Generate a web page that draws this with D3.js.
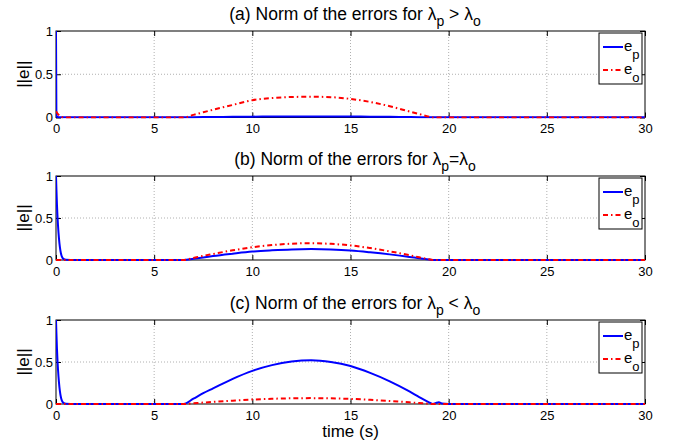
<!DOCTYPE html>
<meta charset="utf-8">
<style>
body { margin: 0; background: #fff; }
svg text { font-family: "Liberation Sans", Arial, Helvetica, sans-serif; fill: #000; }
.tick text { font-size: 13px; }
.grid line { stroke: #b0b0b0; stroke-width: 1; stroke-dasharray: 1,2; }
</style>
<svg id="chart"></svg>
<script src="https://d3js.org/d3.v7.min.js"></script>
<script>

var time = [0, 0.02, 0.05, 0.1, 0.15, 0.2, 0.25, 0.3, 0.4, 0.5, 1, 6.5, 7, 7.5, 8, 9, 10, 11, 12, 13, 14, 15, 16, 17, 18, 18.5, 19, 19.2, 19.35, 19.5, 19.65, 20, 30];

// (a) lambda_p > lambda_o
var epA = [1, 0.05, 0.01, 0.005, 0.004, 0.003, 0.003, 0.002, 0.002, 0.002, 0.002, 0.002, 0.003, 0.005, 0.006, 0.008, 0.01, 0.011, 0.012, 0.012, 0.012, 0.011, 0.01, 0.008, 0.005, 0.004, 0.002, 0.002, 0.002, 0.002, 0.002, 0.002, 0.002];
var eoA = [0.07, 0.065, 0.055, 0.04, 0.028, 0.018, 0.01, 0.005, 0.001, 0, 0, 0, 0.03, 0.06, 0.09, 0.145, 0.2, 0.225, 0.237, 0.24, 0.235, 0.215, 0.18, 0.13, 0.07, 0.04, 0.01, 0, 0, 0, 0, 0, 0];

// (b) lambda_p = lambda_o
var epB = [1, 0.85, 0.65, 0.42, 0.26, 0.15, 0.08, 0.04, 0.01, 0.002, 0, 0, 0.015, 0.03, 0.047, 0.075, 0.1, 0.115, 0.126, 0.13, 0.125, 0.113, 0.092, 0.067, 0.037, 0.02, 0.005, 0, 0, 0, 0, 0, 0];
var eoB = [0, 0, 0, 0, 0, 0, 0, 0, 0, 0, 0, 0, 0.025, 0.05, 0.072, 0.115, 0.152, 0.178, 0.194, 0.2, 0.192, 0.174, 0.142, 0.103, 0.058, 0.032, 0.008, 0, 0, 0, 0, 0, 0];

// (c) lambda_p < lambda_o
var epC = [1, 0.85, 0.65, 0.42, 0.26, 0.15, 0.08, 0.04, 0.01, 0.002, 0, 0, 0.063, 0.13, 0.187, 0.3, 0.395, 0.463, 0.505, 0.52, 0.5, 0.452, 0.37, 0.27, 0.15, 0.083, 0.02, 0, 0.012, 0.02, 0.005, 0, 0];
var eoC = [0, 0, 0, 0, 0, 0, 0, 0, 0, 0, 0, 0, 0.008, 0.017, 0.025, 0.04, 0.053, 0.062, 0.068, 0.07, 0.067, 0.061, 0.05, 0.036, 0.02, 0.011, 0.003, 0, 0, 0, 0, 0, 0];

var xTicks = [0, 5, 10, 15, 20, 25, 30];
var yTicks = [0, 0.5, 1];
var yTickLabels = ["0", "0.5", "1"];

var letters = ["(a)", "(b)", "(c)"];
var relations = [" > ", "=", " < "];

var panels = [
  { ep: epA, eo: eoA, top: 31, bottom: 117.5 },
  { ep: epB, eo: eoB, top: 176, bottom: 260 },
  { ep: epC, eo: eoC, top: 320, bottom: 404 }
];

var width = 675, height = 443,
    left = 56, right = 645;

var svg = d3.select("#chart")
    .attr("width", width)
    .attr("height", height);

var x = d3.scaleLinear().domain([0, 30]).range([left, right]);

panels.forEach(function(p, i) {
  var y = d3.scaleLinear().domain([0, 1]).range([p.bottom, p.top]);
  var g = svg.append("g");

  var clipId = "clip" + i;
  g.append("clipPath").attr("id", clipId)
    .append("rect")
      .attr("x", left).attr("y", p.top - 2)
      .attr("width", right - left).attr("height", p.bottom - p.top + 3);

  // grid
  g.append("g").attr("class", "grid")
    .selectAll("line").data(xTicks.slice(1, -1))
    .enter().append("line")
      .attr("x1", function(d) { return x(d); })
      .attr("x2", function(d) { return x(d); })
      .attr("y1", p.top).attr("y2", p.bottom);
  g.append("g").attr("class", "grid")
    .selectAll("line").data(yTicks.slice(1, -1))
    .enter().append("line")
      .attr("x1", left).attr("x2", right)
      .attr("y1", function(d) { return y(d); })
      .attr("y2", function(d) { return y(d); });

  // axes, ticks inside
  g.append("g")
      .attr("transform", "translate(0," + p.bottom + ")")
      .call(d3.axisBottom(x).tickValues(xTicks).tickSize(-5).tickPadding(6.5));
  g.append("g")
      .attr("transform", "translate(0," + p.top + ")")
      .call(d3.axisTop(x).tickValues(xTicks).tickSize(-5).tickFormat(""));
  g.append("g")
      .attr("transform", "translate(" + left + ",0)")
      .call(d3.axisLeft(y).tickValues(yTicks).tickSize(-5).tickPadding(3)
        .tickFormat(function(d, k) { return yTickLabels[k]; }));
  g.append("g")
      .attr("transform", "translate(" + right + ",0)")
      .call(d3.axisRight(y).tickValues(yTicks).tickSize(-5).tickFormat(""));
  g.selectAll(".domain").remove();
  g.selectAll(".tick line").attr("stroke", "#000");

  g.append("rect")
      .attr("x", left).attr("y", p.top)
      .attr("width", right - left).attr("height", p.bottom - p.top)
      .attr("fill", "none").attr("stroke", "#000").attr("stroke-width", 1);

  var line = d3.line()
      .x(function(d, k) { return x(time[k]); })
      .y(function(d) { return y(d); })
      .curve(d3.curveMonotoneX);

  var plot = g.append("g").attr("clip-path", "url(#" + clipId + ")");
  plot.append("path").datum(p.ep)
      .attr("d", line)
      .attr("fill", "none").attr("stroke", "#0000ff").attr("stroke-width", 2);
  plot.append("path").datum(p.eo)
      .attr("d", line)
      .attr("fill", "none").attr("stroke", "#ff0000").attr("stroke-width", 2)
      .attr("stroke-dasharray", "5,3,1.5,3");

  // title
  var t = g.append("text")
      .attr("x", 355).attr("y", p.top - 11)
      .attr("text-anchor", "middle").style("font-size", "17.5px");
  t.append("tspan").text(letters[i] + " Norm of the errors for \u03bb");
  t.append("tspan").attr("dy", 6).style("font-size", "14px").text("p");
  t.append("tspan").attr("dy", -6).text(relations[i] + "\u03bb");
  t.append("tspan").attr("dy", 6).style("font-size", "14px").text("o");

  // y label
  g.append("text")
      .attr("transform", "translate(29," + (p.top + p.bottom) / 2 + ") rotate(-90)")
      .attr("text-anchor", "middle").style("font-size", "17px")
      .text("||e||");

  // legend
  var lx = 599, ly = p.top + 2;
  var leg = g.append("g");
  leg.append("rect")
      .attr("x", lx).attr("y", ly).attr("width", 43).attr("height", 51)
      .attr("fill", "#fff").attr("stroke", "#000").attr("stroke-width", 1);
  var items = [
    { sub: "p", color: "#0000ff", dash: null, dy: 14 },
    { sub: "o", color: "#ff0000", dash: "5,3,1.5,3", dy: 37 }
  ];
  items.forEach(function(it) {
    leg.append("line")
        .attr("x1", lx + 4).attr("x2", lx + 24)
        .attr("y1", ly + it.dy).attr("y2", ly + it.dy)
        .attr("stroke", it.color).attr("stroke-width", 2)
        .attr("stroke-dasharray", it.dash);
    var lt = leg.append("text")
        .attr("x", lx + 25).attr("y", ly + it.dy + 4)
        .style("font-size", "15px");
    lt.append("tspan").text("e");
    lt.append("tspan").attr("dy", 8).style("font-size", "13px").text(it.sub);
  });
});

svg.append("text")
    .attr("x", (left + right) / 2).attr("y", 437)
    .attr("text-anchor", "middle").style("font-size", "17px")
    .text("time (s)");

</script>
